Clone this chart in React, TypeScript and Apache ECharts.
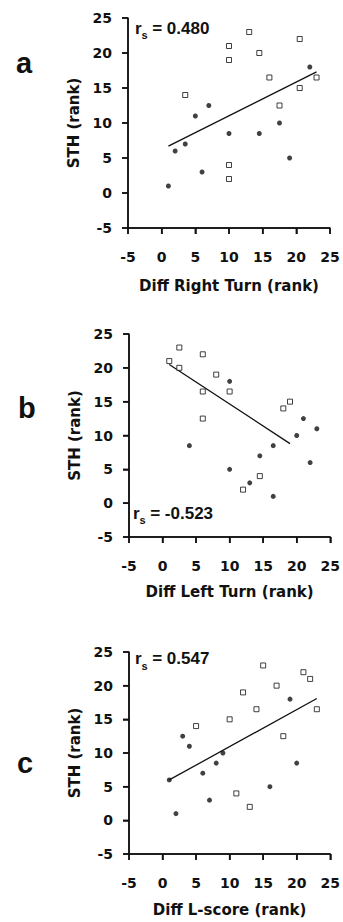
import React, { useEffect, useRef } from "react";
import * as echarts from "echarts";

// Panel a: Diff Right Turn (rank) vs STH (rank)
const aFilledX = [1, 2, 3.5, 5, 6, 7, 10, 14.5, 17.5, 19, 22];
const aFilledY = [1, 6, 7, 11, 3, 12.5, 8.5, 8.5, 10, 5, 18];
const aOpenX = [3.5, 10, 10, 10, 10, 13, 14.5, 16, 17.5, 20.5, 20.5, 23];
const aOpenY = [14, 21, 19, 4, 2, 23, 20, 16.5, 12.5, 22, 15, 16.5];
const aLineX = [1, 23];
const aLineY = [6.7, 17.3];

// Panel b: Diff Left Turn (rank) vs STH (rank)
const bFilledX = [4, 10, 10, 13, 14.5, 16.5, 16.5, 20, 21, 22, 23];
const bFilledY = [8.5, 18, 5, 3, 7, 8.5, 1, 10, 12.5, 6, 11];
const bOpenX = [1, 2.5, 2.5, 6, 6, 6, 8, 10, 12, 14.5, 18, 19];
const bOpenY = [21, 23, 20, 22, 16.5, 12.5, 19, 16.5, 2, 4, 14, 15];
const bLineX = [1, 19];
const bLineY = [20.5, 8.8];

// Panel c: Diff L-score (rank) vs STH (rank)
const cFilledX = [1, 2, 3, 4, 6, 7, 8, 9, 16, 19, 20];
const cFilledY = [6, 1, 12.5, 11, 7, 3, 8.5, 10, 5, 18, 8.5];
const cOpenX = [5, 10, 11, 12, 13, 14, 15, 17, 18, 21, 22, 23];
const cOpenY = [14, 15, 4, 19, 2, 16.5, 23, 20, 12.5, 22, 21, 16.5];
const cLineX = [1, 23];
const cLineY = [6, 18.1];

const panelLetters = ["a", "b", "c"];
const xTitles = ["Diff Right Turn (rank)", "Diff Left Turn (rank)", "Diff L-score (rank)"];
const yTitle = "STH (rank)";
const rsValues = ["0.480", "-0.523", "0.547"];
const axisMin = -5;
const axisMax = 25;
const axisStep = 5;
const tickValues = [-5, 0, 5, 10, 15, 20, 25];

const zip = (xs: number[], ys: number[]) => xs.map((x, i) => [x, ys[i]]);

const INK = "#111";
const AXIS_FONT = "DejaVu Sans";
const LABEL_FONT = "Liberation Sans";

const PANELS = [
  {
    top: 0,
    height: 307,
    grid: { left: 128, top: 18, width: 202, height: 210 },
    xNameGap: 50,
    filled: zip(aFilledX, aFilledY),
    open: zip(aOpenX, aOpenY),
    fit: zip(aLineX, aLineY),
    letter: { x: 16, y: 63 },
    rs: { x: 135, y: 36.7 },
  },
  {
    top: 307,
    height: 307,
    grid: { left: 129, top: 27, width: 202, height: 203 },
    xNameGap: 47,
    filled: zip(bFilledX, bFilledY),
    open: zip(bOpenX, bOpenY),
    fit: zip(bLineX, bLineY),
    letter: { x: 18, y: 101 },
    rs: { x: 133, y: 214.7 },
  },
  {
    top: 614,
    height: 308,
    grid: { left: 129, top: 38, width: 202, height: 204 },
    xNameGap: 48,
    filled: zip(cFilledX, cFilledY),
    open: zip(cOpenX, cOpenY),
    fit: zip(cLineX, cLineY),
    letter: { x: 17, y: 149 },
    rs: { x: 135, y: 53.4 },
  },
];

function Panel({ idx }: { idx: number }) {
  const ref = useRef<HTMLDivElement>(null);
  const p = PANELS[idx];
  useEffect(() => {
    if (!ref.current) return;
    const chart = echarts.init(ref.current, undefined, { renderer: "svg" });

    const axisBase = () => ({
      type: "value",
      min: axisMin,
      max: axisMax,
      interval: axisStep,
      z: 10,
      splitLine: { show: false },
      axisLine: { show: true, onZero: false, lineStyle: { color: INK, width: 1.5 } },
      axisTick: { show: true, inside: false, length: 6, lineStyle: { color: INK, width: 1.5 } },
      axisLabel: {
        color: INK,
        fontFamily: AXIS_FONT,
        fontWeight: "bold",
        fontSize: 14,
        showMinLabel: true,
        showMaxLabel: true,
      },
      nameLocation: "middle",
      nameTextStyle: { color: INK, fontFamily: AXIS_FONT, fontWeight: "bold", fontSize: 15 },
    });

    const xAxis: any = axisBase();
    xAxis.name = xTitles[idx];
    xAxis.nameGap = p.xNameGap;
    xAxis.axisLabel.margin = 22;
    const yAxis: any = axisBase();
    yAxis.name = yTitle;
    yAxis.nameGap = 47;
    yAxis.axisLabel.margin = 16;

    const series: any[] = [
      {
        type: "line",
        data: p.fit,
        symbol: "none",
        lineStyle: { color: INK, width: 1.3 },
        z: 4,
      },
      {
        type: "scatter",
        data: p.open,
        symbol: "rect",
        symbolSize: 5,
        itemStyle: { color: "#fff", borderColor: INK, borderWidth: 1 },
        z: 5,
      },
      {
        type: "scatter",
        data: p.filled,
        symbol: "circle",
        symbolSize: 5,
        itemStyle: { color: INK },
        z: 5,
      },
    ];

    const textGraphic: any[] = [
      {
        type: "text",
        x: p.letter.x,
        y: p.letter.y,
        style: {
          text: panelLetters[idx],
          fontFamily: LABEL_FONT,
          fontWeight: "bold",
          fontSize: 29,
          fill: INK,
          verticalAlign: "middle",
          align: "left",
        },
      },
      {
        type: "text",
        x: p.rs.x,
        y: p.rs.y,
        style: {
          text: "r",
          fontFamily: LABEL_FONT,
          fontWeight: "bold",
          fontSize: 17,
          fill: INK,
          verticalAlign: "bottom",
          align: "left",
        },
      },
      {
        type: "text",
        x: p.rs.x + 6.5,
        y: p.rs.y + 4,
        style: {
          text: "s",
          fontFamily: LABEL_FONT,
          fontWeight: "bold",
          fontSize: 11,
          fill: INK,
          verticalAlign: "bottom",
          align: "left",
        },
      },
      {
        type: "text",
        x: p.rs.x + 12.5,
        y: p.rs.y,
        style: {
          text: " = " + rsValues[idx],
          fontFamily: LABEL_FONT,
          fontWeight: "bold",
          fontSize: 17,
          fill: INK,
          verticalAlign: "bottom",
          align: "left",
        },
      },
    ];

    chart.setOption({
      animation: false,
      grid: [p.grid],
      xAxis: [xAxis],
      yAxis: [yAxis],
      series,
      graphic: textGraphic,
    });

    // Axis frame and ticks placed through the chart's own scales (convertToPixel)
    const px = (x: number, y: number) =>
      chart.convertToPixel({ gridIndex: 0 }, [x, y]) as number[];
    const origin = px(axisMin, axisMin);
    const yTop = px(axisMin, axisMax);
    const xRight = px(axisMax, axisMin);
    const frame: any[] = [
      {
        type: "polyline",
        z: 100,
        silent: true,
        shape: { points: [yTop, origin, xRight] },
        style: { stroke: INK, lineWidth: 1.5, fill: "none" },
      },
    ];
    tickValues.forEach((t) => {
      const a = px(t, axisMin);
      frame.push({
        type: "line",
        z: 100,
        silent: true,
        shape: { x1: a[0], y1: a[1], x2: a[0], y2: a[1] + 6 },
        style: { stroke: INK, lineWidth: 1.5 },
      });
      const b = px(axisMin, t);
      frame.push({
        type: "line",
        z: 100,
        silent: true,
        shape: { x1: b[0] - 6, y1: b[1], x2: b[0], y2: b[1] },
        style: { stroke: INK, lineWidth: 1.5 },
      });
    });
    chart.setOption({ graphic: [...textGraphic, ...frame] });

    return () => chart.dispose();
  }, []);

  return (
    <div
      ref={ref}
      style={{ position: "absolute", left: 0, top: p.top, width: 343, height: p.height }}
    />
  );
}

export default function App() {
  return (
    <div style={{ position: "absolute", left: 0, top: 0, width: 343, height: 922, background: "#fff" }}>
      <Panel idx={0} />
      <Panel idx={1} />
      <Panel idx={2} />
    </div>
  );
}
